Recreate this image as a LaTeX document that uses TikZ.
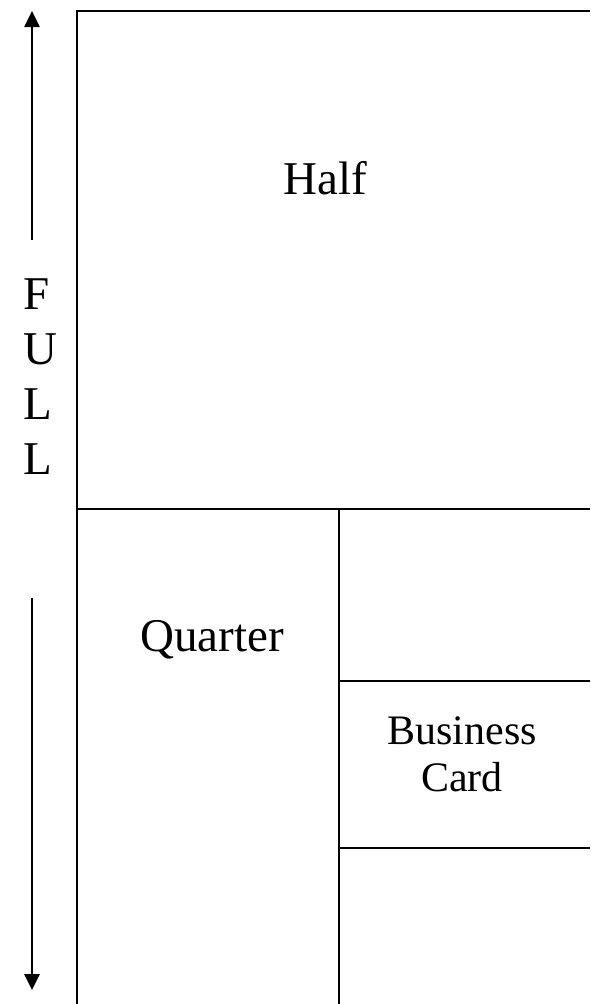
\documentclass[tikz,border=0pt]{standalone}
\usepackage{fontspec}
\setmainfont{Liberation Serif}
\usetikzlibrary{arrows.meta}
\tikzset{
  lbl/.style={inner sep=0pt, font=\fontsize{47}{47}\selectfont},
  cardlbl/.style={inner sep=0pt, align=center, font=\fontsize{42}{47}\selectfont},
  fullarrow/.style={line width=2.6pt, -{Triangle[width=15pt,length=16pt]}}
}
\begin{document}
\begin{tikzpicture}[x=1pt,y=-1pt,line width=2.2pt]
\useasboundingbox (0,0) rectangle (590,1004);
% page outline
\coordinate (topleft) at (77,11);
\coordinate (topright) at (590,11);
\coordinate (botleft) at (77,1004);
\draw[](topright) -- (topleft) -- (botleft);
% half / quarter split
\coordinate (midleft) at (77,509);
\coordinate (midright) at (590,509);
\coordinate (midsplit) at (339,509);
\coordinate (botsplit) at (339,1004);
\draw[](midleft) -- (midright);
\draw[](midsplit) -- (botsplit);
% business card strip
\coordinate (cardtl) at (339,681);
\coordinate (cardtr) at (590,681);
\coordinate (cardbl) at (339,848);
\coordinate (cardbr) at (590,848);
\draw[](cardtl) -- (cardtr);
\draw[](cardbl) -- (cardbr);
% labels
\node[lbl, anchor=base] (half) at (325,194){Half};
\node[lbl, anchor=base] (quarter) at (212,651){Quarter};
\node[cardlbl] (card) at (462,754){Business\\Card};
\foreach \c [count=\i] in {F,U,L,L}
  \node[lbl, anchor=base west] (full\i) at (22,{309+55*(\i-1)}){\c};
% full height arrows
\coordinate (upfrom) at (32,240);
\coordinate (upto) at (32,11);
\coordinate (downfrom) at (32,598);
\coordinate (downto) at (32,990);
\draw[fullarrow](upfrom) -- (upto);
\draw[fullarrow](downfrom) -- (downto);
\end{tikzpicture}
\end{document}
